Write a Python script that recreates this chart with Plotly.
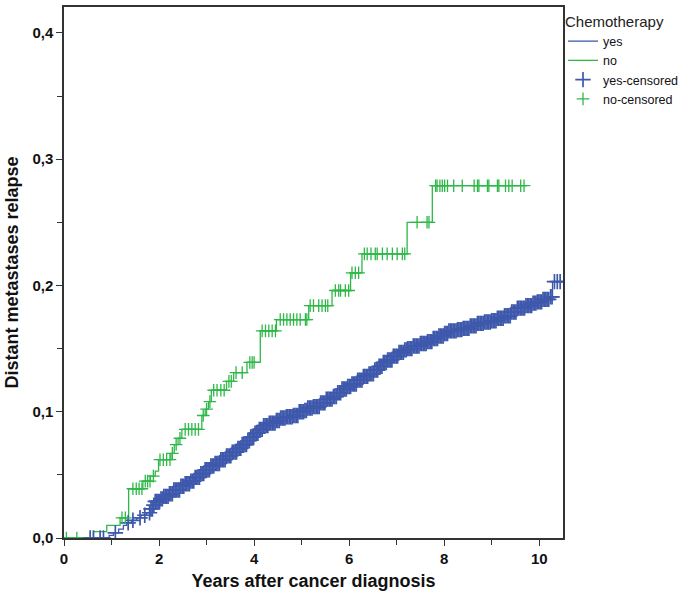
import numpy as np
import plotly.graph_objects as go

# ---- data ----
yes_t = [0.00, 0.95, 1.04, 1.15, 1.25, 1.32, 1.42, 1.53, 1.62, 1.74, 1.81, 1.87, 1.92, 2.02, 2.10,
         2.20, 2.30, 2.44, 2.55, 2.65, 2.75, 2.87, 2.97, 3.08, 3.18, 3.29, 3.40, 3.52, 3.64, 3.75,
         3.85, 3.92, 4.00, 4.10, 4.20, 4.32, 4.45, 4.55, 4.68, 4.83, 4.95, 5.05, 5.11, 5.25, 5.40,
         5.52, 5.65, 5.75, 5.85, 5.95, 6.05, 6.17, 6.30, 6.40, 6.52, 6.62, 6.70, 6.80, 6.92, 7.05,
         7.15, 7.22, 7.35, 7.50, 7.64, 7.75, 7.88, 7.99, 8.10, 8.28, 8.40, 8.55, 8.70, 8.85, 9.00,
         9.12, 9.25, 9.40, 9.54, 9.70, 9.85, 9.96, 10.08, 10.21, 10.28, 10.49]
yes_y = [0.000, 0.002, 0.004, 0.007, 0.010, 0.012, 0.014, 0.016, 0.018, 0.020, 0.023, 0.026, 0.029,
         0.031, 0.033, 0.035, 0.038, 0.041, 0.043, 0.045, 0.048, 0.051, 0.054, 0.057, 0.059, 0.062,
         0.065, 0.068, 0.071, 0.074, 0.077, 0.080, 0.083, 0.086, 0.089, 0.091, 0.093, 0.095, 0.096,
         0.097, 0.100, 0.101, 0.103, 0.104, 0.107, 0.110, 0.112, 0.115, 0.118, 0.120, 0.122, 0.125,
         0.128, 0.130, 0.133, 0.136, 0.139, 0.141, 0.144, 0.147, 0.149, 0.150, 0.152, 0.154, 0.1555,
         0.158, 0.160, 0.162, 0.164, 0.165, 0.166, 0.168, 0.170, 0.171, 0.172, 0.174, 0.176, 0.179,
         0.182, 0.184, 0.186, 0.187, 0.189, 0.191, 0.203, 0.203]

no_t = [0.00, 0.62, 0.90, 1.18, 1.36, 1.66, 1.82, 1.92, 1.99, 2.25, 2.32, 2.40, 2.48, 2.90, 2.97,
        3.04, 3.10, 3.42, 3.57, 3.85, 4.13, 4.47, 5.15, 5.64, 6.03, 6.27, 7.22, 7.75, 9.72]
no_y = [0.000, 0.005, 0.010, 0.016, 0.039, 0.045, 0.049, 0.053, 0.062, 0.067, 0.074, 0.079, 0.086,
        0.097, 0.102, 0.108, 0.117, 0.124, 0.131, 0.139, 0.164, 0.173, 0.184, 0.196, 0.210, 0.225,
        0.250, 0.279, 0.279]

yes_cens = [0.55, 0.62, 0.76, 0.83, 1.08, 1.35, 1.45, 1.60, 1.70,
            1.80, 1.83, 1.86, 1.89, 1.92, 1.95, 1.98, 2.01, 2.04, 2.07, 2.10, 2.13, 2.16, 2.19,
            2.22, 2.25, 2.28, 2.31, 2.34, 2.37, 2.40, 2.43, 2.46, 2.49, 2.52, 2.55, 2.58, 2.61,
            2.64, 2.67, 2.70, 2.73, 2.76, 2.79, 2.82, 2.85, 2.88, 2.91, 2.94, 2.97, 3.00, 3.03,
            3.06, 3.09, 3.12, 3.15, 3.18, 3.21, 3.24, 3.27, 3.30, 3.33, 3.36, 3.39, 3.42, 3.45,
            3.48, 3.51, 3.54, 3.57, 3.60, 3.63, 3.66, 3.69, 3.72, 3.75, 3.78, 3.81, 3.84, 3.87,
            3.90, 3.93, 3.96, 3.99, 4.02, 4.05, 4.08, 4.11, 4.14, 4.17, 4.20, 4.23, 4.26, 4.29,
            4.32, 4.35, 4.38, 4.41, 4.44, 4.47, 4.50, 4.53, 4.56, 4.59, 4.62, 4.65, 4.68, 4.71,
            4.74, 4.77, 4.80, 4.83, 4.86, 4.89, 4.92, 4.95, 4.98, 5.01, 5.04, 5.07, 5.10, 5.13,
            5.16, 5.19, 5.22, 5.25, 5.28, 5.31, 5.34, 5.37, 5.40, 5.43, 5.46, 5.49, 5.52, 5.55,
            5.58, 5.61, 5.64, 5.67, 5.70, 5.73, 5.76, 5.79, 5.82, 5.85, 5.88, 5.91, 5.94, 5.97,
            6.00, 6.03, 6.06, 6.09, 6.12, 6.15, 6.18, 6.21, 6.24, 6.27, 6.30, 6.33, 6.36, 6.39,
            6.42, 6.45, 6.48, 6.51, 6.54, 6.57, 6.60, 6.63, 6.66, 6.69, 6.72, 6.75, 6.78, 6.81,
            6.84, 6.87, 6.90, 6.93, 6.96, 6.99, 7.02, 7.05, 7.08, 7.11, 7.14, 7.17, 7.20, 7.23,
            7.26, 7.29, 7.32, 7.35, 7.38, 7.41, 7.44, 7.47, 7.50, 7.53, 7.56, 7.59, 7.62, 7.65,
            7.68, 7.71, 7.74, 7.77, 7.80, 7.83, 7.86, 7.89, 7.92, 7.95, 7.98, 8.01, 8.04, 8.07,
            8.10, 8.13, 8.16, 8.19, 8.22, 8.25, 8.28, 8.31, 8.34, 8.37, 8.40, 8.43, 8.46, 8.49,
            8.52, 8.55, 8.58, 8.61, 8.64, 8.67, 8.70, 8.73, 8.76, 8.79, 8.82, 8.85, 8.88, 8.91,
            8.94, 8.97, 9.00, 9.03, 9.06, 9.09, 9.12, 9.15, 9.18, 9.21, 9.24, 9.27, 9.30, 9.33,
            9.36, 9.39, 9.42, 9.45, 9.48, 9.51, 9.54, 9.57, 9.60, 9.63, 9.66, 9.69, 9.72, 9.75,
            9.78, 9.81, 9.84, 9.87, 9.90, 9.93, 9.96, 9.99, 10.02, 10.05, 10.08, 10.11, 10.14,
            10.17, 10.20, 10.24, 10.27, 10.32, 10.38, 10.44]

no_cens = [0.05, 0.27, 1.22, 1.29, 1.45, 1.52, 1.58, 1.64, 1.71, 1.76, 1.81, 1.88, 2.02, 2.09,
           2.16, 2.23, 2.28, 2.36, 2.44, 2.55, 2.62, 2.69, 2.76, 2.83, 2.93, 3.00, 3.07, 3.15,
           3.22, 3.30, 3.37, 3.47, 3.52, 3.62, 3.75, 3.91, 3.96, 4.00, 4.17, 4.24, 4.31, 4.38,
           4.45, 4.55, 4.62, 4.69, 4.76, 4.83, 4.90, 4.97, 5.08, 5.11, 5.18, 5.25, 5.36, 5.43,
           5.50, 5.55, 5.71, 5.78, 5.82, 5.92, 5.99, 6.06, 6.13, 6.20, 6.32, 6.38, 6.46, 6.55,
           6.59, 6.70, 6.80, 6.91, 7.01, 7.12, 7.17, 7.43, 7.64, 7.68, 7.82, 7.85, 7.91, 7.96,
           8.01, 8.07, 8.20, 8.38, 8.63, 8.70, 8.73, 8.91, 8.94, 9.12, 9.15, 9.29, 9.36, 9.43,
           9.61, 9.68]

x_ticks = [0, 2, 4, 6, 8, 10]
y_ticks = [0.0, 0.1, 0.2, 0.3, 0.4]
y_ticklabels = ["0,0", "0,1", "0,2", "0,3", "0,4"]

BLUE = "#3E58AC"
GREEN = "#2EB848"


def step_value(t_knots, y_knots, times):
    idx = np.searchsorted(np.array(t_knots), np.array(times), side="right") - 1
    return np.array(y_knots)[idx]


fig = go.Figure()
fig.add_trace(go.Scatter(x=yes_t, y=yes_y, mode="lines", line=dict(color=BLUE, width=1.3, shape="hv"),
                         name="yes"))
fig.add_trace(go.Scatter(x=no_t, y=no_y, mode="lines", line=dict(color=GREEN, width=1.3, shape="hv"),
                         name="no"))
fig.add_trace(go.Scatter(x=yes_cens, y=step_value(yes_t, yes_y, yes_cens), mode="markers",
                         marker=dict(symbol="cross-thin", size=11, line=dict(color=BLUE, width=1.7)),
                         name="yes-censored"))
fig.add_trace(go.Scatter(x=no_cens, y=step_value(no_t, no_y, no_cens), mode="markers",
                         marker=dict(symbol="cross-thin", size=9, line=dict(color=GREEN, width=1.3)),
                         name="no-censored"))

FONT = "Liberation Sans, Arial"
tickfont = dict(family=FONT, size=15, color="#111111")
titlefont = dict(family=FONT, size=18, color="#111111")

fig.update_layout(
    width=685, height=603,
    margin=dict(l=64, r=122, t=7, b=65, autoexpand=False),
    paper_bgcolor="white", plot_bgcolor="white",
    showlegend=True,
    legend=dict(
        x=1.0, y=1.0, xanchor="left", yanchor="top",
        title=dict(text="Chemotherapy", font=dict(family=FONT, size=15, color="#222")),
        font=dict(family=FONT, size=12.5, color="#111"),
        bgcolor="rgba(0,0,0,0)", itemwidth=30, tracegroupgap=0,
    ),
    xaxis=dict(
        range=[0, 10.5], tickvals=x_ticks, ticktext=["<b>%d</b>" % v for v in x_ticks],
        ticks="outside", ticklen=6, tickwidth=1.3, tickcolor="#333",
        showline=True, linecolor="#333", linewidth=1.5, mirror=True,
        showgrid=False, zeroline=False, tickfont=tickfont, automargin=False,
        minor=dict(dtick=1, tick0=0, ticks="outside", ticklen=5, tickcolor="#333", tickwidth=1.2),
        title=dict(text="<b>Years after cancer diagnosis</b>", font=titlefont, standoff=9),
    ),
    yaxis=dict(
        range=[0, 0.4205], tickvals=y_ticks, ticktext=["<b>%s</b>" % s for s in y_ticklabels],
        ticks="outside", ticklen=6, tickwidth=1.3, tickcolor="#333",
        showline=True, linecolor="#333", linewidth=1.5, mirror=True,
        showgrid=False, zeroline=False, tickfont=tickfont, automargin=False,
        minor=dict(dtick=0.05, tick0=0, ticks="outside", ticklen=5, tickcolor="#333", tickwidth=1.2),
        title=dict(text="<b>Distant metastases relapse</b>", font=titlefont, standoff=9),
    ),
)

fig.write_html("out.html", config={"displayModeBar": False},
               post_script="document.body.style.margin='0px';")
